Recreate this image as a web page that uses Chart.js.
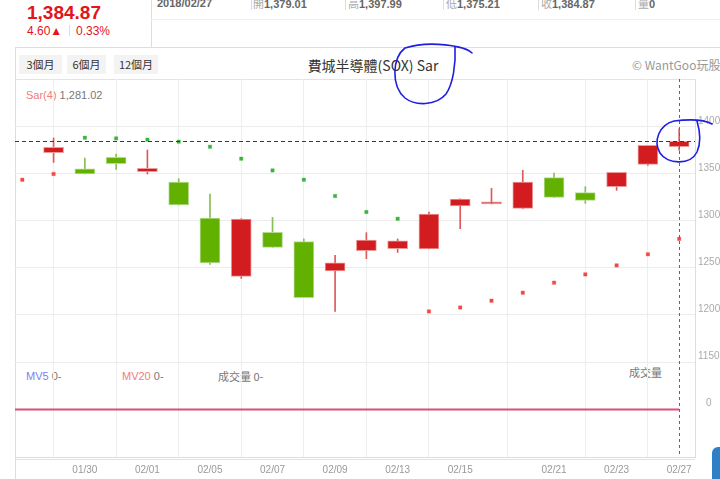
<!DOCTYPE html>
<html><head><meta charset="utf-8">
<script src="https://cdn.jsdelivr.net/npm/chart.js@4.4.1/dist/chart.umd.min.js"></script>
<style>
html,body{margin:0;padding:0;background:#fff;}
body{width:720px;height:479px;position:relative;overflow:hidden;font-family:"Liberation Sans",Arial,sans-serif;}
.a{position:absolute;white-space:nowrap;}
.ln{position:absolute;background:#dddddd;}
.btn{position:absolute;top:55px;height:19px;line-height:19px;background:#f3f3f3;color:#333;font-size:11px;text-align:center;font-family:"Noto Sans CJK TC","Liberation Sans",sans-serif;}
.inf{position:absolute;top:-3px;font-size:11px;line-height:13px;font-weight:bold;color:#666;}
.inf i{font-style:normal;font-weight:normal;color:#aaa;font-family:"Noto Sans CJK TC",sans-serif;}
.lab{position:absolute;font-size:11px;line-height:13px;color:#777;}
</style></head><body>
<div class="a" style="left:27px;top:2px;font-size:19px;line-height:22px;font-weight:bold;color:#e3141c;">1,384.87</div>
<div class="a" style="left:27px;top:24px;font-size:12px;line-height:14px;color:#e3141c;">4.60▲</div>
<div class="ln" style="left:69px;top:25px;width:1px;height:11px;"></div>
<div class="a" style="left:76px;top:24px;font-size:12px;line-height:14px;color:#e3141c;">0.33%</div>
<div class="ln" style="left:151px;top:0;width:1px;height:47px;"></div>
<div class="ln" style="left:151px;top:19px;width:569px;height:1px;background:#eeeeee;"></div>
<div class="inf" style="left:157px;">2018/02/27</div>
<div class="ln" style="left:251px;top:0;width:1px;height:10px;"></div>
<div class="inf" style="left:253px;"><i>開</i>1,379.01</div>
<div class="ln" style="left:345px;top:0;width:1px;height:10px;"></div>
<div class="inf" style="left:348px;"><i>高</i>1,397.99</div>
<div class="ln" style="left:443px;top:0;width:1px;height:10px;"></div>
<div class="inf" style="left:446px;"><i>低</i>1,375.21</div>
<div class="ln" style="left:538px;top:0;width:1px;height:10px;"></div>
<div class="inf" style="left:541px;"><i>收</i>1,384.87</div>
<div class="ln" style="left:635px;top:0;width:1px;height:10px;"></div>
<div class="inf" style="left:638px;"><i>量</i>0</div>

<div class="ln" style="left:15px;top:47px;width:705px;height:1px;"></div>
<div class="ln" style="left:15px;top:47px;width:1px;height:432px;"></div>
<div class="btn" style="left:19px;width:43px;">3個月</div>
<div class="btn" style="left:67px;width:39px;">6個月</div>
<div class="btn" style="left:114px;width:44px;">12個月</div>
<div class="a" style="left:250px;width:246px;text-align:center;top:56px;font-size:14px;line-height:18px;color:#333;font-family:'Noto Sans CJK TC',sans-serif;">費城半導體(SOX) Sar</div>
<div class="a" style="left:632px;top:57px;font-size:12px;line-height:16px;color:#999;font-family:'Noto Sans CJK TC','Liberation Sans',sans-serif;">© WantGoo玩股網</div>
<div class="ln" style="left:15px;top:79px;width:680px;height:1px;background:#e3e3e3;"></div>
<div class="ln" style="left:15px;top:459px;width:680px;height:1px;background:#e3e3e3;"></div>

<div class="lab" style="left:26px;top:89px;"><span style="color:#f07c7c">Sar(4)</span> 1,281.02</div>
<div class="lab" style="left:26px;top:370px;"><span style="color:#8080f0">MV5</span> 0-</div>
<div class="lab" style="left:122px;top:370px;"><span style="color:#f07c7c">MV20</span> 0-</div>
<div class="lab" style="left:218px;top:370px;font-family:'Noto Sans CJK TC',sans-serif;">成交量 0-</div>
<div class="lab" style="left:629px;top:366px;font-family:'Noto Sans CJK TC',sans-serif;">成交量</div>
<div class="a" style="left:712px;top:447px;width:20px;height:40px;background:#2f7fc6;border-radius:6px;"></div>

<canvas id="c" width="720" height="479" style="position:absolute;left:0;top:0;"></canvas>
<script>
const dates  = ['01/25','01/26','01/29','01/30','01/31','02/01','02/02','02/05','02/06','02/07','02/08','02/09','02/12','02/13','02/14','02/15','02/16','02/20','02/21','02/22','02/23','02/26','02/27'];
const opens  = [null,null,1372.7,1355.6,1367.7,1352.4,1341.5,1303.2,1241.1,1287.9,1278.0,1246.8,1268.4,1270.5,1270.2,1316.0,1318.2,1313.4,1346.1,1330.1,1336.5,1360.2,1379.01];
const highs  = [null,null,1388.3,1367.0,1371.3,1375.5,1345.0,1328.7,1302.5,1303.8,1280.9,1263.4,1287.6,1280.9,1309.6,1323.6,1334.7,1353.9,1351.0,1336.5,1351.7,1380.4,1397.99];
const lows   = [null,null,1362.3,1350.0,1354.9,1350.0,1317.0,1253.8,1238.9,1271.9,1218.4,1203.8,1259.9,1266.6,1270.2,1291.8,1318.2,1313.0,1325.1,1318.7,1332.6,1359.1,1375.21];
const closes = [null,null,1378.3,1350.0,1361.0,1356.0,1317.0,1255.3,1302.1,1271.9,1218.4,1255.6,1279.8,1279.0,1307.4,1323.4,1318.6,1341.5,1325.1,1321.9,1351.7,1380.4,1384.87];
const sar    = [null,1343.9,1350.0,1388.6,1387.9,1386.5,1384.4,1379.0,1366.3,1353.8,1343.9,1326.6,1309.6,1302.4,1203.8,1208.0,1215.2,1223.7,1234.4,1243.2,1252.8,1264.6,1281.02];
const volume = [0,0,0,0,0,0,0,0,0,0,0,0,0,0,0,0,0,0,0,0,0,0,0];
const mv5    = [0,0,0,0,0,0,0,0,0,0,0,0,0,0,0,0,0,0,0,0,0,0,0];
const mv20   = [0,0,0,0,0,0,0,0,0,0,0,0,0,0,0,0,0,0,0,0,0,0,0];
const tickDates  = ['01/30','02/01','02/05','02/07','02/09','02/13','02/15','02/21','02/23','02/27'];
const priceTicks = [1150,1200,1250,1300,1350,1400];
const volTicks   = [0];

const RED='#d31c1f', GREEN='#62b100';
const idx = dates.map((d,i)=>i);
const valid = idx.filter(i=>opens[i]!==null);
const isUp = i => closes[i] >= opens[i];
let lastI = valid[valid.length-1];
const refClose = i => closes[i]!==null ? closes[i] : closes[valid[0]];

const guides = {
  id:'guides',
  afterDatasetsDraw(chart){
    const {ctx, chartArea:a, scales} = chart;
    const yP = Math.round(scales.y.getPixelForValue(closes[lastI]))+0.5;
    const xP = Math.round(scales.x.getPixelForValue(lastI))+0.5;
    ctx.save();
    ctx.lineWidth=1;
    ctx.strokeStyle='#3a3a3a'; ctx.setLineDash([4,3]);
    ctx.beginPath(); ctx.moveTo(a.left,yP); ctx.lineTo(a.right,yP); ctx.stroke();
    ctx.strokeStyle='#666'; ctx.setLineDash([3,3]);
    ctx.beginPath(); ctx.moveTo(xP,a.top); ctx.lineTo(xP,a.bottom); ctx.stroke();
    ctx.restore();
  },
  afterDraw(chart){
    // hand-drawn blue annotation marks from the screenshot
    const ctx=chart.ctx;
    ctx.save();
    ctx.strokeStyle='#1f1fe0'; ctx.lineWidth=1.6; ctx.lineCap='round';
    ctx.beginPath();
    ctx.moveTo(472,53);
    ctx.bezierCurveTo(465,46,430,40,405,48);
    ctx.bezierCurveTo(392,58,391,86,405,98);
    ctx.bezierCurveTo(415,106,436,106,446,94);
    ctx.bezierCurveTo(453,84,456,64,455,47);
    ctx.stroke();
    ctx.beginPath();
    ctx.moveTo(712,124);
    ctx.bezierCurveTo(705,120,690,119,674,121);
    ctx.bezierCurveTo(659,125,653,141,660,153);
    ctx.bezierCurveTo(667,164,690,166,697,152);
    ctx.bezierCurveTo(701,143,700,131,697,121);
    ctx.stroke();
    ctx.restore();
  }
};

Chart.defaults.font.family='"Liberation Sans", Arial, sans-serif';
Chart.defaults.font.size=10;
Chart.defaults.color='#999';

new Chart(document.getElementById('c'),{
  type:'bar',
  data:{datasets:[
    {type:'line', label:'MV5', yAxisID:'yv', data: idx.map(i=>({x:i,y:mv5[i]})), borderColor:'#8080f0', borderWidth:1, pointRadius:0, order:6},
    {type:'line', label:'MV20', yAxisID:'yv', data: idx.map(i=>({x:i,y:mv20[i]})), borderColor:'#dc5078', borderWidth:2, pointRadius:0, order:1},
    {label:'wick', yAxisID:'y', grouped:false, barThickness:1, order:4,
     data: valid.map(i=>({x:i,y:[lows[i],highs[i]]})),
     backgroundColor: c=> c.raw && isUp(c.raw.x) ? '#dd5a5a' : '#86c050', borderWidth:0},
    {label:'body', yAxisID:'y', grouped:false, barThickness:20, order:3, minBarLength:2,
     data: valid.map(i=>({x:i,y:[opens[i],closes[i]]})),
     backgroundColor: c=> c.raw && isUp(c.raw.x) ? RED : GREEN,
     borderColor: c=> c.raw && isUp(c.raw.x) ? '#ec9a9a' : '#b4dc90',
     borderWidth:1, borderSkipped:false},
    {type:'scatter', label:'Sar', yAxisID:'y', order:2,
     data: idx.filter(i=>sar[i]!==null).map(i=>({x:i,y:sar[i]})),
     pointStyle:'rect', pointRadius:2.4, borderWidth:1,
     backgroundColor: c=> c.raw && c.raw.y > refClose(c.raw.x) ? '#3cb43c' : '#f04848',
     borderColor: c=> c.raw && c.raw.y > refClose(c.raw.x) ? 'rgba(60,180,60,0.35)' : 'rgba(240,72,72,0.35)'}
  ]},
  options:{
    responsive:false, animation:false, maintainAspectRatio:false,
    layout:{padding:{top:79,left:15,right:0,bottom:0}},
    plugins:{legend:{display:false}, tooltip:{enabled:false}},
    scales:{
      x:{type:'linear', min:0.767, max:22.506, offset:false,
         grid:{color:'#eeeeee', drawTicks:false},
         border:{display:true,color:'#dddddd'},
         afterBuildTicks: s=>{ s.ticks = tickDates.map(d=>({value:dates.indexOf(d)})); },
         afterFit: s=>{ s.height=22; },
         ticks:{autoSkip:false, maxRotation:0, padding:7, color:'#999', callback:v=>dates[v]}},
      y:{type:'linear', position:'right', stack:'p', stackWeight:283, min:1150, max:1451.06,
         grid:{color:'#ececec', drawTicks:false},
         border:{display:true,color:'#dddddd'},
         afterBuildTicks: s=>{ s.ticks = priceTicks.map(v=>({value:v})); },
         afterFit: s=>{ s.width=25; },
         ticks:{padding:3, labelOffset:-6, color:'#aaa', callback:v=>String(v)}},
      yv:{type:'linear', position:'right', stack:'p', stackWeight:95, min:-1, max:1,
         grid:{display:false},
         border:{display:true,color:'#dddddd'},
         afterBuildTicks: s=>{ s.ticks = volTicks.map(v=>({value:v})); },
         afterFit: s=>{ s.width=25; },
         ticks:{padding:3, labelOffset:-6, color:'#aaa', callback:v=>String(v)}}
    }
  },
  plugins:[guides]
});
</script>
</body></html>
